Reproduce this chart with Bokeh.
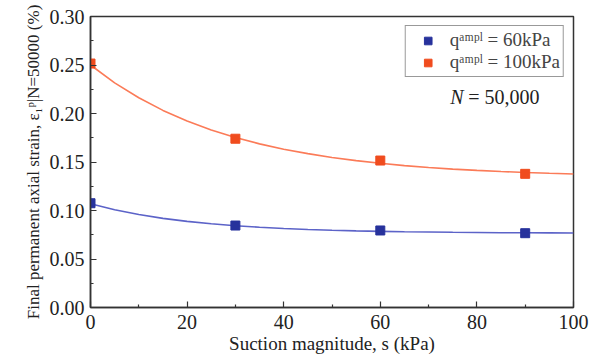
from bokeh.plotting import figure
from bokeh.embed import file_html
from bokeh.resources import INLINE
from bokeh.models import Range1d, FixedTicker, NumeralTickFormatter, Label, Legend, LegendItem

# measured points
suction = [0, 30, 60, 90]
strain_60 = [0.1075, 0.0845, 0.0794, 0.0766]
strain_100 = [0.2515, 0.1740, 0.1515, 0.1378]

# fitted curves
curve_s = [0, 5, 10, 15, 20, 25, 30, 35, 40, 45, 50, 55, 60, 65, 70, 75, 80, 85, 90, 95, 100]
curve_60 = [0.1070, 0.1008, 0.0959, 0.0919, 0.0888, 0.0863, 0.0843, 0.0827, 0.0814, 0.0804,
            0.0796, 0.0790, 0.0785, 0.0781, 0.0778, 0.0775, 0.0773, 0.0771, 0.0770, 0.0769, 0.0768]
curve_100 = [0.2500, 0.2316, 0.2162, 0.2032, 0.1922, 0.1830, 0.1752, 0.1687, 0.1632, 0.1586,
             0.1547, 0.1514, 0.1487, 0.1463, 0.1444, 0.1427, 0.1414, 0.1402, 0.1392, 0.1384, 0.1377]

x_ticks = [0, 20, 40, 60, 80, 100]
y_ticks = [0.00, 0.05, 0.10, 0.15, 0.20, 0.25, 0.30]
labels = ["q\u1d43\u1d50\u1d56\u02e1 = 60kPa", "q\u1d43\u1d50\u1d56\u02e1 = 100kPa"]

SERIF = "Liberation Serif"
BLUE_M, BLUE_L = "#27329c", "#5c63c8"
ORANGE_M, ORANGE_L = "#f04c1e", "#fb7b58"
AXC = "#333333"
TXT = "#222222"

p = figure(width=589, height=356, output_backend="svg", toolbar_location=None,
           x_range=Range1d(0, 100), y_range=Range1d(0, 0.30),
           min_border_left=90, min_border_right=16, min_border_top=16, min_border_bottom=49)
p.grid.visible = False
p.outline_line_color = AXC
p.outline_line_width = 1.5
p.background_fill_color = "white"
p.border_fill_color = "white"

p.line(curve_s, curve_60, line_color=BLUE_L, line_width=1.6)
p.line(curve_s, curve_100, line_color=ORANGE_L, line_width=1.6)
r1 = p.scatter(suction, strain_60, marker="square", size=9, fill_color=BLUE_M, line_color=BLUE_M)
r2 = p.scatter(suction, strain_100, marker="square", size=9, fill_color=ORANGE_M, line_color=ORANGE_M)

for ax in (p.xaxis[0], p.yaxis[0]):
    ax.axis_line_color = AXC
    ax.axis_line_width = 1.5
    ax.major_tick_line_color = AXC
    ax.minor_tick_line_color = AXC
    ax.major_tick_line_width = 1.2
    ax.minor_tick_line_width = 1.2
    ax.major_tick_in = 6
    ax.major_tick_out = 0
    ax.minor_tick_in = 3
    ax.minor_tick_out = 0
    ax.major_label_text_font = SERIF
    ax.major_label_text_font_size = "20px"
    ax.major_label_text_color = TXT
    ax.axis_label_text_font = SERIF
    ax.axis_label_text_font_style = "normal"
    ax.axis_label_text_color = TXT

p.xaxis.axis_label_text_font_size = "19px"
p.yaxis.axis_label_text_font_size = "17px"
p.xaxis.ticker = FixedTicker(ticks=x_ticks, minor_ticks=[10, 30, 50, 70, 90])
p.yaxis.ticker = FixedTicker(ticks=y_ticks, minor_ticks=[0.025, 0.075, 0.125, 0.175, 0.225, 0.275])
p.yaxis.formatter = NumeralTickFormatter(format="0.00")
p.xaxis.axis_label = "Suction magnitude, s (kPa)"
p.yaxis.axis_label = "Final permanent axial strain, \u03b5\u2081\u1d56|N=50000 (%)"
p.xaxis.major_label_standoff = 7
p.yaxis.major_label_standoff = 6
p.xaxis.axis_label_standoff = 1
p.yaxis.axis_label_standoff = 4

legend = Legend(items=[LegendItem(label=labels[0], renderers=[r1]),
                       LegendItem(label=labels[1], renderers=[r2])],
                location="top_right")
legend.label_text_font = SERIF
legend.label_text_font_size = "19px"
legend.border_line_color = AXC
legend.border_line_width = 1.2
legend.margin = 9
legend.padding = 3
legend.spacing = 0
legend.glyph_width = 38
legend.label_standoff = 3
legend.label_height = 19
legend.glyph_height = 19
p.add_layout(legend)

p.add_layout(Label(x=74.5, y=0.2165, text="N", text_font=SERIF, text_font_style="italic",
                   text_font_size="20px", text_baseline="middle", text_color=TXT))
p.add_layout(Label(x=78.2, y=0.2165, text="= 50,000", text_font=SERIF,
                   text_font_size="20px", text_baseline="middle", text_color=TXT))

open("out.html", "w").write(file_html(p, INLINE))
